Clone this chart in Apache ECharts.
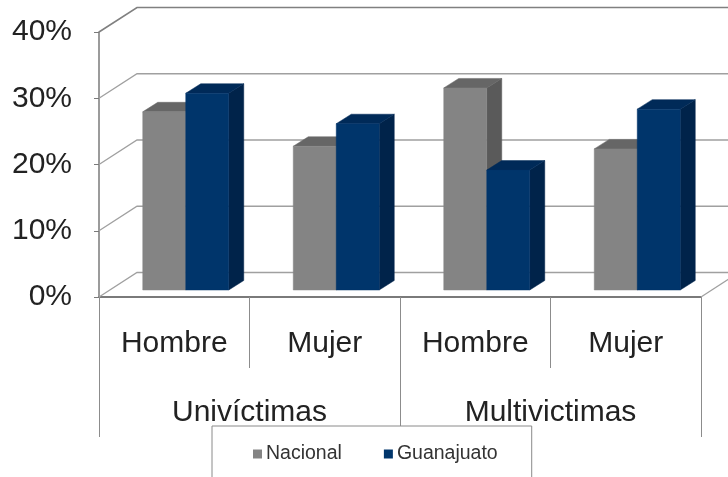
<!DOCTYPE html>
<html><head><meta charset="utf-8">
<style>html,body{margin:0;padding:0;background:#fff}#c{width:728px;height:477px}</style>
<script src="https://cdn.jsdelivr.net/npm/echarts@6/dist/echarts.min.js"></script>
</head><body><div id="c"></div>
<script>
const subCategories = ['Hombre', 'Mujer', 'Hombre', 'Mujer'];
const groupCategories = ['Univíctimas', 'Multivictimas'];
const nacional = [26.9, 21.7, 30.5, 21.3];
const guanajuato = [29.7, 25.1, 18.1, 27.3];
const yTicks = [0, 10, 20, 30, 40];

const WALL_DX = 38, WALL_DY = -24.5;   // depth of the chart box
const BAR_DX = 15, BAR_DY = -9.5;      // depth of a bar
const BAR_W = 43, BAR_SHIFT = 11.5, BAR_BASE = -7;
const FONT = '"Liberation Sans", Arial, sans-serif';
const TEXT = '#222222';
const chart = echarts.init(document.getElementById('c'), null, {renderer: 'canvas'});

function poly(points, fill) {
  return {type: 'polygon', shape: {points}, style: {fill, stroke: fill, lineWidth: 0.5}};
}
function barSeries(name, values, side, front, top, sideColor) {
  return {
    name, type: 'custom', z: 3, clip: false, silent: true,
    itemStyle: {color: front},
    encode: {x: 0, y: 1},
    data: values.map((v, i) => [i, v]),
    renderItem(params, api) {
      const c0 = api.coord([api.value(0), 0]);
      const c1 = api.coord([api.value(0), api.value(1)]);
      const cx = c0[0] + BAR_SHIFT;
      const x0 = side < 0 ? cx - BAR_W : cx, x1 = x0 + BAR_W;
      const yb = c0[1] + BAR_BASE, yt = c1[1] + BAR_BASE;
      return {type: 'group', children: [
        poly([[x1, yb], [x1 + BAR_DX, yb + BAR_DY], [x1 + BAR_DX, yt + BAR_DY], [x1, yt]], sideColor),
        poly([[x0, yt], [x1, yt], [x1 + BAR_DX, yt + BAR_DY], [x0 + BAR_DX, yt + BAR_DY]], top),
        poly([[x0, yb], [x1, yb], [x1, yt], [x0, yt]], front)
      ]};
    }
  };
}
const wallSeries = {
  type: 'custom', z: 1, clip: false, silent: true, encode: {y: 0},
  data: yTicks.map(v => [v]),
  renderItem(params, api) {
    const cs = params.coordSys;
    const y = api.coord([0, api.value(0)])[1];
    const x0 = cs.x, x1 = cs.x + cs.width;
    const lines = [
      [[x0, y], [x0 + WALL_DX, y + WALL_DY], [x1 + WALL_DX, y + WALL_DY]]
    ];
    const dark = api.value(0) === 40;
    if (api.value(0) === 0) lines.push([[x1, y], [x1 + WALL_DX, y + WALL_DY]]);
    return {type: 'group', children: lines.map(points => ({
      type: 'polyline', shape: {points},
      style: {fill: null, stroke: dark ? '#808080' : '#a0a0a0', lineWidth: dark ? 1.6 : 1.3}
    }))};
  }
};

chart.setOption({
  animation: false,
  backgroundColor: '#fff',
  grid: {left: 99, top: 32, width: 602, height: 265, containLabel: false},
  legend: {
    data: [{name: 'Nacional', icon: 'rect'}, {name: 'Guanajuato', icon: 'rect'}],
    left: 212, top: 426, orient: 'horizontal',
    padding: [18, 34, 18, 41], itemWidth: 9, itemHeight: 9, itemGap: 42,
    backgroundColor: '#fff', borderColor: '#8a8a8a', borderWidth: 1,
    textStyle: {fontFamily: FONT, fontSize: 19.5, color: '#333', padding: [0, 0, 0, -1]},
    selectedMode: false, z: 10
  },
  xAxis: [
    {type: 'category', data: subCategories, position: 'bottom',
     axisLine: {show: true, lineStyle: {color: '#7a7a7a', width: 2}},
     axisTick: {show: true, length: 71, alignWithLabel: false, lineStyle: {color: '#8c8c8c'}},
     axisLabel: {interval: 0, margin: 32, fontFamily: FONT, fontSize: 30, color: TEXT}},
    {type: 'category', data: groupCategories, position: 'bottom',
     axisLine: {show: false},
     axisTick: {show: true, length: 140, lineStyle: {color: '#8c8c8c'}},
     axisLabel: {interval: 0, margin: 101, fontFamily: FONT, fontSize: 30, color: TEXT}}
  ],
  yAxis: {
    type: 'value', min: 0, max: 40, interval: 10,
    axisLine: {show: true, lineStyle: {color: '#7a7a7a', width: 1.5}},
    axisTick: {show: true, length: 5, lineStyle: {color: '#7a7a7a'}},
    splitLine: {show: false},
    axisLabel: {formatter: '{value}%', margin: 27, padding: [3, 0, 0, 0], fontFamily: FONT, fontSize: 30, color: TEXT}
  },
  series: [
    wallSeries,
    barSeries('Nacional', nacional, -1, '#848484', '#666666', '#5a5a5a'),
    barSeries('Guanajuato', guanajuato, 1, '#00356b', '#002a58', '#00234a')
  ]
});
</script></body></html>
